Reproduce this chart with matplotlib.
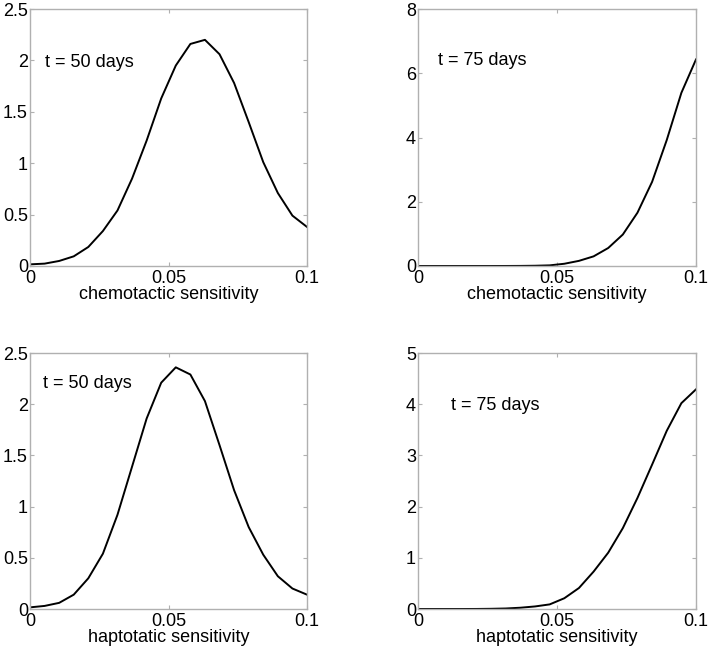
import numpy as np
import matplotlib
matplotlib.use("Agg")
import matplotlib.pyplot as plt

plt.rcParams['font.family'] = ['Liberation Sans', 'DejaVu Sans']

x = np.linspace(0, 0.1, 20)

chemo_50 = [0.016, 0.023, 0.049, 0.094, 0.185, 0.34, 0.54, 0.85, 1.22, 1.63,
            1.95, 2.16, 2.20, 2.06, 1.78, 1.40, 1.01, 0.71, 0.49, 0.38]
chemo_75 = [0.0, 0.0, 0.0, 0.0, 0.0, 0.0, 0.001, 0.003, 0.008, 0.02,
            0.07, 0.16, 0.30, 0.56, 0.98, 1.66, 2.62, 3.92, 5.39, 6.43]
hapto_50 = [0.016, 0.03, 0.06, 0.14, 0.30, 0.54, 0.92, 1.39, 1.86, 2.21,
            2.36, 2.29, 2.03, 1.60, 1.16, 0.80, 0.53, 0.32, 0.20, 0.14]
hapto_75 = [0.0, 0.0, 0.0, 0.0, 0.001, 0.004, 0.01, 0.025, 0.05, 0.09,
            0.21, 0.41, 0.73, 1.10, 1.58, 2.17, 2.82, 3.48, 4.02, 4.29]

panels = [
    dict(y=chemo_50, ylim=(0, 2.5), yticks=[0, 0.5, 1, 1.5, 2, 2.5],
         yticklabels=['0', '0.5', '1', '1.5', '2', '2.5'],
         xlabel='chemotactic sensitivity', label='t = 50 days', tpos=(0.0054, 1.98)),
    dict(y=chemo_75, ylim=(0, 8), yticks=[0, 2, 4, 6, 8],
         yticklabels=['0', '2', '4', '6', '8'],
         xlabel='chemotactic sensitivity', label='t = 75 days', tpos=(0.0071, 6.41)),
    dict(y=hapto_50, ylim=(0, 2.5), yticks=[0, 0.5, 1, 1.5, 2, 2.5],
         yticklabels=['0', '0.5', '1', '1.5', '2', '2.5'],
         xlabel='haptotatic sensitivity', label='t = 50 days', tpos=(0.0046, 2.20)),
    dict(y=hapto_75, ylim=(0, 5), yticks=[0, 1, 2, 3, 4, 5],
         yticklabels=['0', '1', '2', '3', '4', '5'],
         xlabel='haptotatic sensitivity', label='t = 75 days', tpos=(0.0118, 3.98)),
]

W, H = 709, 652
fig = plt.figure(figsize=(W / 100, H / 100), dpi=100)

# axes boxes in pixels: (left, top, right, bottom)
boxes = [(30, 9, 307, 266), (418, 9, 696, 266),
         (30, 353, 307, 609), (418, 353, 696, 609)]

frame_col = '#b0b0b0'
fs = 13
for p, (l, t, r, b) in zip(panels, boxes):
    ax = fig.add_axes([l / W, 1 - b / H, (r - l) / W, (b - t) / H])
    ax.plot(x, p['y'], color='black', lw=1.4)
    ax.set_xlim(0, 0.1)
    ax.set_ylim(*p['ylim'])
    ax.set_xticks([0, 0.05, 0.1])
    ax.set_xticklabels(['0', '0.05', '0.1'])
    ax.set_yticks(p['yticks'])
    ax.set_yticklabels(p['yticklabels'])
    for s in ax.spines.values():
        s.set_color(frame_col)
        s.set_linewidth(1.0)
    ax.tick_params(direction='in', length=3, width=0.8, color=frame_col,
                   top=True, right=True, labelsize=fs, labelcolor='black')
    ax.tick_params(axis='x', pad=3)
    ax.tick_params(axis='y', pad=1.5)
    ax.set_xlabel(p['xlabel'], fontsize=fs, labelpad=-1)
    ax.text(p['tpos'][0], p['tpos'][1], p['label'], fontsize=fs,
            ha='left', va='center')

fig.savefig('out.png', dpi=100)
